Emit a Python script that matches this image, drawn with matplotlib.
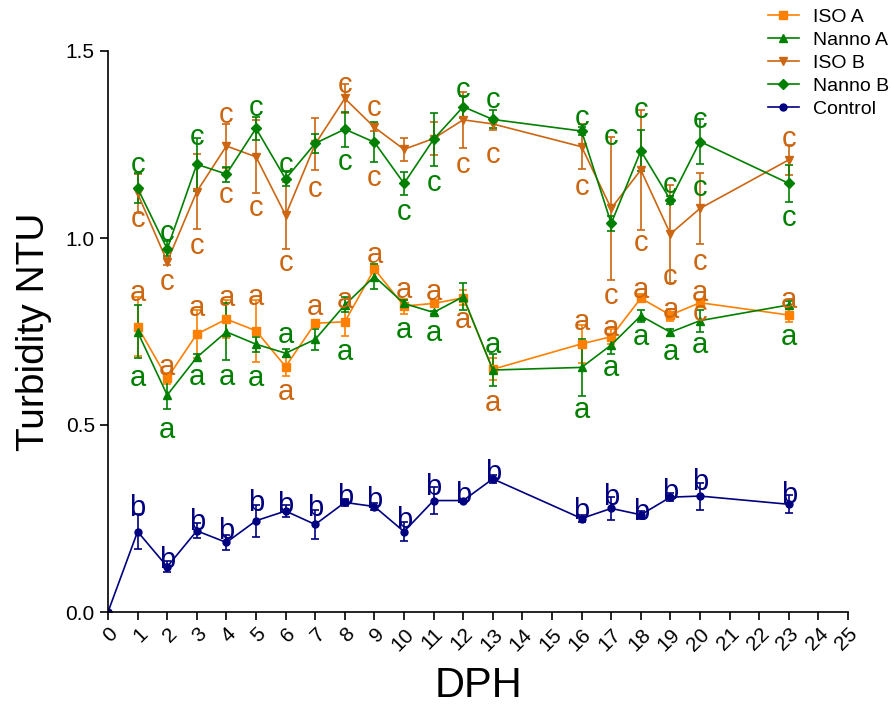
import matplotlib
matplotlib.use("Agg")
import matplotlib.pyplot as plt
from matplotlib.lines import Line2D
import numpy as np

plt.rcParams['font.family'] = ['Liberation Sans', 'DejaVu Sans']

# ---------------- data ----------------
days = [1, 2, 3, 4, 5, 6, 7, 8, 9, 10, 11, 12, 13, 16, 17, 18, 19, 20, 23]

iso_a = [0.763, 0.625, 0.743, 0.783, 0.752, 0.656, 0.772, 0.776, 0.917, 0.818,
         0.825, 0.840, 0.649, 0.717, 0.736, 0.839, 0.794, 0.827, 0.794]
iso_a_err = [0.078, 0.015, 0.065, 0.050, 0.083, 0.025, 0.008, 0.038, 0.010, 0.020,
             0.010, 0.020, 0.029, 0.050, 0.020, 0.010, 0.015, 0.010, 0.018]

nanno_a = [0.749, 0.580, 0.681, 0.749, 0.716, 0.692, 0.729, 0.821, 0.897, 0.825,
           0.801, 0.843, 0.647, 0.654, 0.714, 0.792, 0.748, 0.779, 0.821]
nanno_a_err = [0.071, 0.036, 0.010, 0.076, 0.020, 0.010, 0.029, 0.020, 0.034, 0.010,
               0.005, 0.036, 0.042, 0.076, 0.024, 0.016, 0.010, 0.029, 0.010]

iso_b = [1.119, 0.937, 1.124, 1.246, 1.217, 1.061, 1.251, 1.373, 1.296, 1.237,
         1.266, 1.316, 1.305, 1.244, 1.079, 1.182, 1.011, 1.079, 1.209]
iso_b_err = [0.053, 0.010, 0.100, 0.060, 0.098, 0.090, 0.070, 0.040, 0.010, 0.030,
             0.045, 0.075, 0.015, 0.060, 0.190, 0.160, 0.130, 0.095, 0.040]

nanno_b = [1.133, 0.971, 1.197, 1.171, 1.293, 1.158, 1.253, 1.291, 1.256, 1.146,
           1.264, 1.351, 1.317, 1.286, 1.039, 1.233, 1.102, 1.258, 1.146]
nanno_b_err = [0.040, 0.020, 0.070, 0.020, 0.030, 0.020, 0.026, 0.047, 0.053, 0.030,
               0.071, 0.030, 0.024, 0.010, 0.020, 0.055, 0.010, 0.060, 0.050]

control_days = [0] + days
control = [0.0, 0.215, 0.121, 0.217, 0.186, 0.244, 0.270, 0.234, 0.293, 0.282, 0.215,
           0.298, 0.298, 0.356, 0.250, 0.277, 0.260, 0.307, 0.310, 0.288]
control_err = [0.0, 0.047, 0.015, 0.020, 0.020, 0.043, 0.015, 0.038, 0.010, 0.010, 0.025,
               0.036, 0.005, 0.010, 0.010, 0.031, 0.010, 0.010, 0.036, 0.024]

# significance letters (x, y, letter)
orange_letters_x = [1, 2, 3, 4, 5, 6, 7, 8, 9, 10, 11, 12, 13, 16, 17, 18, 19, 20, 23,
                    1, 2, 3, 4, 4, 5, 6, 7, 8, 9, 9, 12, 13, 16, 17, 18, 19, 20, 20, 23]
orange_letters_y = [0.852, 0.656, 0.812, 0.839, 0.843, 0.589, 0.816, 0.834, 0.955, 0.861,
                    0.856, 0.781, 0.558, 0.776, 0.759, 0.861, 0.807, 0.852, 0.834,
                    1.050, 0.883, 0.979, 1.329, 1.115, 1.079, 0.932, 1.130, 1.409, 1.347,
                    1.160, 1.195, 1.222, 1.137, 0.846, 0.986, 0.895, 0.937, 0.800, 1.266]
orange_letters_t = ['a'] * 19 + ['c'] * 20

green_letters_x = [1, 2, 3, 5, 6, 8, 10, 11, 12, 13, 16, 17, 18, 19, 20, 20, 23,
                   1, 2, 3, 4, 5, 6, 8, 10, 11, 13, 16, 17, 18, 19, 20, 23]
green_letters_y = [1.195, 1.013, 1.271, 1.347, 1.195, 1.204, 1.070, 1.146, 1.396, 1.369,
                   1.320, 1.271, 1.342, 1.142, 1.316, 1.133, 1.053,
                   0.627, 0.487, 0.629, 0.629, 0.625, 0.741, 0.696, 0.754, 0.745, 0.714,
                   0.540, 0.652, 0.736, 0.696, 0.714, 0.736]
green_letters_t = ['c'] * 17 + ['a'] * 16

blue_letters_x = days
blue_letters_y = [0.279, 0.139, 0.241, 0.217, 0.292, 0.286, 0.277, 0.308, 0.299, 0.246,
                  0.335, 0.313, 0.371, 0.271, 0.308, 0.268, 0.322, 0.348, 0.313]
blue_letters_t = ['b'] * 19

series_labels = ['ISO A', 'Nanno A', 'ISO B', 'Nanno B', 'Control']
x_ticks = list(range(0, 26))
y_ticks = [0.0, 0.5, 1.0, 1.5]

# ---------------- style ----------------
c_isoa = '#FF8000'
c_isob = '#CC6611'
c_green = '#008000'
c_blue = '#000080'
series_colors = [c_isoa, c_green, c_isob, c_green, c_blue]
series_markers = ['s', '^', 'v', 'D', 'o']
series_msize = [6, 6, 6, 5, 5]

fig = plt.figure(figsize=(8.94, 7.11), dpi=100)
ax = fig.add_axes([108 / 894, 1 - 612 / 711, (848 - 108) / 894, (612 - 51) / 711])

series = [(days, iso_a, iso_a_err), (days, nanno_a, nanno_a_err), (days, iso_b, iso_b_err),
          (days, nanno_b, nanno_b_err), (control_days, control, control_err)]
for (xs, ys, es), col, mk, ms in zip(series, series_colors, series_markers, series_msize):
    ax.errorbar(xs, ys, yerr=es, color=col, marker=mk, markersize=ms, linewidth=1.2,
                capsize=3, elinewidth=1.2, capthick=1.2)

letter_fs = 21
for xs, ys, ts, col in [(orange_letters_x, orange_letters_y, orange_letters_t, c_isob),
                        (green_letters_x, green_letters_y, green_letters_t, c_green),
                        (blue_letters_x, blue_letters_y, blue_letters_t, c_blue)]:
    for x, y, t in zip(xs, ys, ts):
        ax.text(x, y, t, color=col, fontsize=letter_fs, ha='center', va='center')

ax.set_xlim(0, 25)
ax.set_ylim(0, 1.5)
ax.set_xticks(x_ticks)
ax.set_xticklabels([str(t) for t in x_ticks], rotation=45, ha='right', rotation_mode='anchor')
ax.set_yticks(y_ticks)
ax.set_yticklabels([f'{t:.1f}' for t in y_ticks])
ax.tick_params(axis='both', direction='out', length=6, width=1.2)
ax.tick_params(axis='y', labelsize=15)
ax.tick_params(axis='x', labelsize=15, pad=3)
for s in ['top', 'right']:
    ax.spines[s].set_visible(False)
for s in ['left', 'bottom']:
    ax.spines[s].set_linewidth(1.2)

ax.set_ylabel('Turbidity NTU', fontsize=28, labelpad=10)
ax.set_xlabel('DPH', fontsize=30, labelpad=8)

handles = [Line2D([], [], color=col, marker=mk, markersize=ms, linewidth=1.2)
           for col, mk, ms in zip(series_colors, series_markers, series_msize)]
leg = fig.legend(handles, series_labels, loc='upper left', bbox_to_anchor=(750 / 894, 1 + 9 / 711),
                 frameon=False, fontsize=14, handlelength=1.6, labelspacing=0.27, handletextpad=0.75)

fig.savefig('out.png', dpi=100)
